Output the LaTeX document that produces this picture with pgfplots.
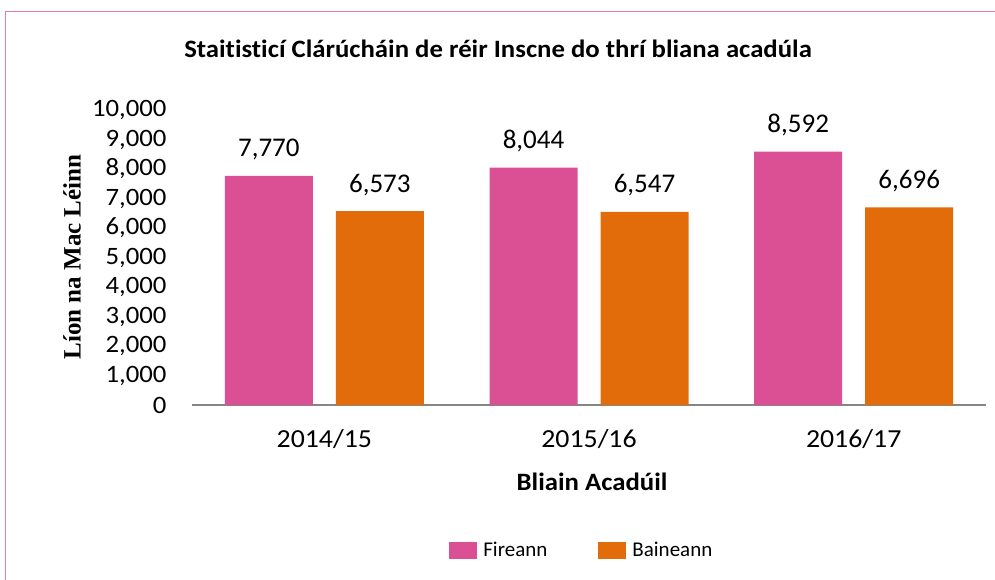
\documentclass[border=0pt]{standalone}
\usepackage{pgfplots}
\pgfplotsset{compat=1.18}
\usepackage{fontspec}
\setmainfont{Carlito}[Ligatures=NoCommon]
\newfontfamily\widefont{Carlito}[Ligatures=NoCommon, FakeStretch=1.07]
\newfontfamily\serifb{Liberation Serif}
\definecolor{pinkbar}{RGB}{219,80,148}
\definecolor{orangebar}{RGB}{227,108,10}
\definecolor{framepink}{RGB}{233,120,180}
\definecolor{axisgray}{RGB}{134,134,134}
\begin{document}
\begin{tikzpicture}[x=1pt,y=1pt]
\useasboundingbox (0,0) rectangle (995,-580);
\draw[framepink, line width=1pt] (5.5,-580) -- (5.5,-11.5) -- (995,-11.5);
\node[font=\fontsize{25}{29}\selectfont\widefont\bfseries] at (498,-49) {Staitisticí Clárúcháin de réir Inscne do thrí bliana acadúla};
\node[font=\fontsize{25}{29}\selectfont\serifb\bfseries, rotate=90] at (72,-257) {Líon na Mac Léinn};
\node[font=\fontsize{25}{29}\selectfont\widefont\bfseries] at (592,-482) {Bliain Acadúil};
\begin{axis}[
  at={(192pt,-405pt)}, anchor=south west,
  scale only axis, width=794pt, height=295pt,
  ymin=0, ymax=10000, xmin=-0.5, xmax=2.5,
  ybar=23pt, bar width=88pt,
  axis x line*=bottom, axis y line*=left,
  x axis line style={axisgray, line width=1.5pt, -},
  y axis line style={draw=none},
  major tick length=0pt,
  xtick={0,1,2}, xticklabels={2014/15,2015/16,2016/17},
  ytick={0,1000,...,10000},
  scaled y ticks=false,
  /pgf/number format/.cd, fixed, 1000 sep={,}, assume math mode=true,
  /pgfplots/.cd,
  yticklabel style={font=\fontsize{25}{29}\selectfont\widefont, xshift=-22pt},
  xticklabel style={font=\fontsize{26}{30}\selectfont\widefont, yshift=-21pt},
  nodes near coords,
  nodes near coords style={font=\fontsize{27}{31}\selectfont, anchor=south, yshift=12pt, text=black},
  legend style={at={(0.491,-0.4915)}, anchor=center, draw=none, legend columns=2,
    font=\fontsize{21}{25}\selectfont,
    /tikz/every odd column/.append style={column sep=4pt},
    /tikz/every even column/.append style={column sep=49pt}},
  legend image code/.code={\draw[#1, draw=none] (0pt,-8.5pt) rectangle (28pt,8.5pt);},
]
\addplot[fill=pinkbar, draw=none] coordinates {(0,7770) (1,8044) (2,8592)};
\addplot[fill=orangebar, draw=none] coordinates {(0,6573) (1,6547) (2,6696)};
\legend{Fireann, Baineann}
\end{axis}
\end{tikzpicture}
\end{document}
